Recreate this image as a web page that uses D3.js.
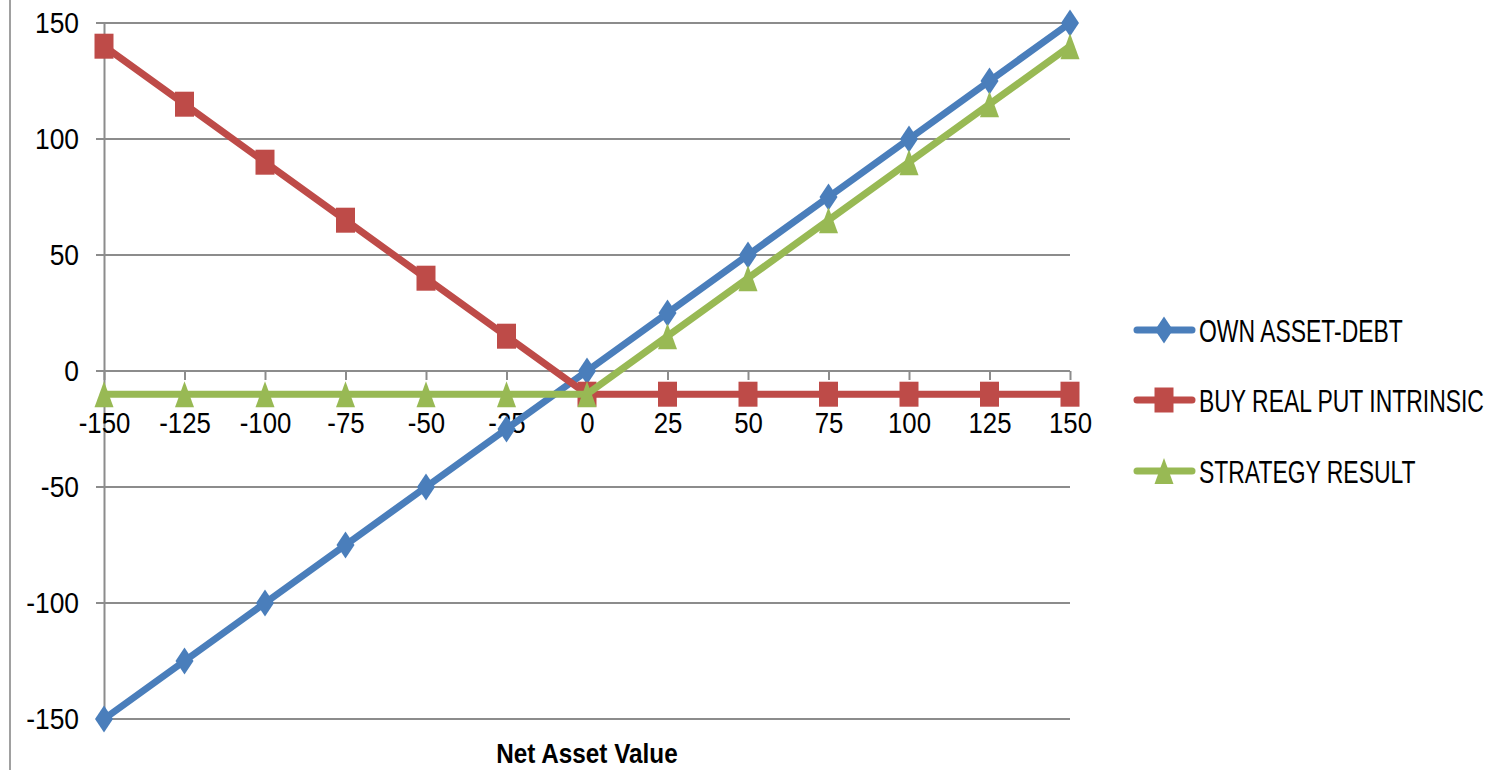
<!DOCTYPE html>
<html>
<head>
<meta charset="utf-8">
<script src="https://cdn.jsdelivr.net/npm/d3@7/dist/d3.min.js"></script>
<style>
body { margin: 0; background: #fff; }
svg { display: block; font-family: "Liberation Sans", Arial, sans-serif; }
</style>
</head>
<body>
<div id="chart"></div>
<script>
//Data
var categories = [-150, -125, -100, -75, -50, -25, 0, 25, 50, 75, 100, 125, 150];
var ownAssetDebt = [-150, -125, -100, -75, -50, -25, 0, 25, 50, 75, 100, 125, 150];
var buyRealPut = [140, 115, 90, 65, 40, 15, -10, -10, -10, -10, -10, -10, -10];
var strategyResult = [-10, -10, -10, -10, -10, -10, -10, 15, 40, 65, 90, 115, 140];
var seriesNames = ["OWN ASSET-DEBT", "BUY REAL PUT INTRINSIC", "STRATEGY RESULT"];
var yTicks = [-150, -100, -50, 0, 50, 100, 150];

var width = 1499, height = 770;
var colors = ["#4A7EBB", "#BE4B48", "#98B954"];
var gridColor = "#8c8c8c";

//Marker shapes (a bit taller than wide, like the original)
var diamond = { draw: function(ctx) {
	ctx.moveTo(0, -13.5); ctx.lineTo(9, 0); ctx.lineTo(0, 13.5); ctx.lineTo(-9, 0); ctx.closePath();
}};
var square = { draw: function(ctx) {
	ctx.moveTo(-9.5, -12.5); ctx.lineTo(9.5, -12.5); ctx.lineTo(9.5, 12.5); ctx.lineTo(-9.5, 12.5); ctx.closePath();
}};
var triangle = { draw: function(ctx) {
	ctx.moveTo(0, -13); ctx.lineTo(9.5, 13); ctx.lineTo(-9.5, 13); ctx.closePath();
}};
var symbols = [diamond, square, triangle];

var svg = d3.select("#chart").append("svg")
	.attr("width", width)
	.attr("height", height);

//Scales
var xScale = d3.scalePoint()
	.domain(categories)
	.range([104, 1070]);

var yScale = d3.scaleLinear()
	.domain([-150, 150])
	.range([719, 23]);

//squeeze text horizontally (the original font is a narrow one)
function squeeze(sel, sx) {
	sel.each(function() {
		var t = d3.select(this);
		var x = +t.attr("x") || 0, y = +t.attr("y") || 0;
		t.attr("x", 0).attr("y", 0)
			.attr("transform", "translate(" + x + "," + y + ") scale(" + sx + ",1)");
	});
}

//Chart frame left edge
svg.append("line")
	.attr("x1", 10).attr("x2", 10)
	.attr("y1", 0).attr("y2", height)
	.attr("stroke", "#a0a0a0").attr("stroke-width", 2);

//Gridlines
svg.append("g").selectAll("line")
	.data(yTicks)
	.enter()
	.append("line")
	.attr("x1", 96)
	.attr("x2", 1070)
	.attr("y1", function(d) { return yScale(d); })
	.attr("y2", function(d) { return yScale(d); })
	.attr("stroke", gridColor)
	.attr("stroke-width", 2);

//Y axis
var yAxis = d3.axisLeft(yScale)
	.tickValues(yTicks)
	.tickSize(0)
	.tickPadding(25)
	.tickFormat(function(d) { return String(d); });
var yG = svg.append("g")
	.attr("transform", "translate(104,0)")
	.call(yAxis);
yG.attr("font-family", null).attr("font-size", null);
yG.select(".domain").attr("stroke", gridColor).attr("stroke-width", 2);
yG.selectAll("text").attr("font-size", 30).attr("fill", "#000");
squeeze(yG.selectAll("text"), 0.88);

//X axis (crosses at 0)
var xAxis = d3.axisBottom(xScale)
	.tickSize(9)
	.tickPadding(32)
	.tickFormat(function(d) { return String(d); });
var xG = svg.append("g")
	.attr("transform", "translate(0," + yScale(0) + ")")
	.call(xAxis);
xG.attr("font-family", null).attr("font-size", null);
xG.select(".domain").attr("stroke", gridColor).attr("stroke-width", 2).attr("d", "M104,0H1070");
xG.selectAll(".tick line").attr("stroke", gridColor).attr("stroke-width", 2);
xG.selectAll("text").attr("font-size", 30).attr("fill", "#000");
squeeze(xG.selectAll("text"), 0.86);

//Series
var allSeries = [ownAssetDebt, buyRealPut, strategyResult];
var line = d3.line()
	.x(function(d, i) { return xScale(categories[i]); })
	.y(function(d) { return yScale(d); });

allSeries.forEach(function(values, s) {
	svg.append("path")
		.datum(values)
		.attr("d", line)
		.attr("fill", "none")
		.attr("stroke", colors[s])
		.attr("stroke-width", 7)
		.attr("stroke-linejoin", "round");
	svg.append("g").selectAll("path")
		.data(values)
		.enter()
		.append("path")
		.attr("d", d3.symbol().type(symbols[s]))
		.attr("transform", function(d, i) {
			return "translate(" + xScale(categories[i]) + "," + yScale(d) + ")";
		})
		.attr("fill", colors[s]);
});

//Legend
var legend = svg.append("g").attr("transform", "translate(1135,0)");
var legendY = [330, 400, 471];
seriesNames.forEach(function(name, s) {
	var g = legend.append("g").attr("transform", "translate(0," + legendY[s] + ")");
	g.append("line")
		.attr("x1", 2).attr("x2", 57)
		.attr("stroke", colors[s])
		.attr("stroke-width", 7)
		.attr("stroke-linecap", "round");
	g.append("path")
		.attr("d", d3.symbol().type(symbols[s]))
		.attr("transform", "translate(29,0)")
		.attr("fill", colors[s]);
	var t = g.append("text")
		.attr("x", 64)
		.attr("y", 12)
		.attr("font-size", 31)
		.attr("fill", "#000")
		.text(name);
	squeeze(t, 0.74);
});

//X axis title
var title = svg.append("text")
	.attr("x", 587)
	.attr("y", 763)
	.attr("text-anchor", "middle")
	.attr("font-size", 27)
	.attr("font-weight", "bold")
	.attr("fill", "#000")
	.text("Net Asset Value");
squeeze(title, 0.9);
</script>
</body>
</html>
